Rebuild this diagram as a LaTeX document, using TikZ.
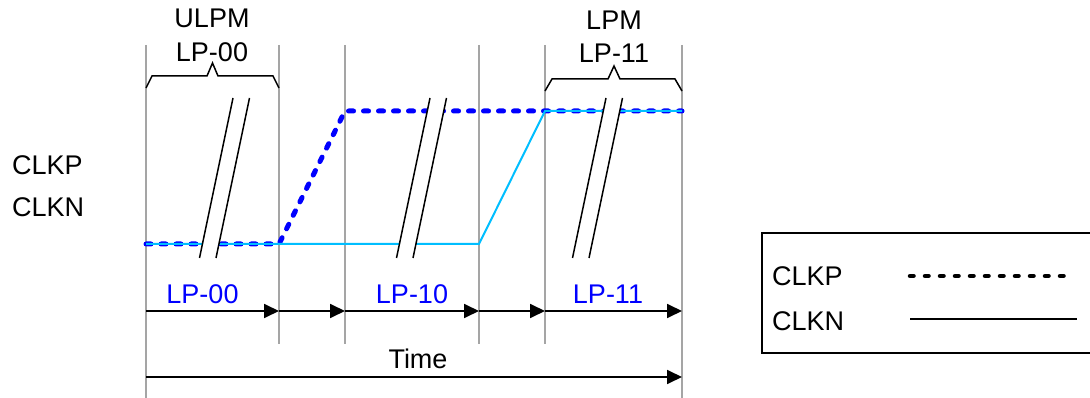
\documentclass[tikz,border=0pt]{standalone}
\usepackage{fontspec}
\setmainfont{Liberation Sans}
\usetikzlibrary{arrows.meta}
\definecolor{gridgray}{RGB}{165,165,165}
\definecolor{clkpblue}{RGB}{0,0,255}
\definecolor{clkncyan}{RGB}{0,190,255}
\begin{document}
\begin{tikzpicture}[x=1pt,y=-1pt,
  lbl/.style={inner sep=0pt, font=\fontsize{27}{32}\selectfont},
  bluelbl/.style={lbl, text=clkpblue},
  gridline/.style={draw=gridgray, line width=1.8pt},
  tarrow/.style={line width=1.8pt, -{Triangle[length=15pt,width=14pt]}},
  bracepath/.style={draw=black, line width=1.5pt, line join=miter},
  clkpline/.style={draw=clkpblue, line width=5pt, line cap=round, dash pattern=on 5pt off 10pt},
  clknline/.style={draw=clkncyan, line width=2pt},
  slashline/.style={draw=black, line width=1.5pt},
  legdash/.style={draw=black, line width=4.5pt, line cap=round, dash pattern=on 3.5pt off 11.5pt},
  legsolid/.style={draw=black, line width=1.5pt},
  legbox/.style={draw=black, line width=1.5pt}]
\useasboundingbox (0,0) rectangle (1090,398);

% vertical grid lines
\coordinate (v1t) at (146,45); \coordinate (v1b) at (146,398);
\coordinate (v2t) at (279,45); \coordinate (v2b) at (279,344);
\coordinate (v3t) at (345,45); \coordinate (v3b) at (345,344);
\coordinate (v4t) at (479,45); \coordinate (v4b) at (479,344);
\coordinate (v5t) at (545,45); \coordinate (v5b) at (545,344);
\coordinate (v6t) at (682,45); \coordinate (v6b) at (682,398);
\foreach \i in {1,...,6} {\draw[gridline] (v\i t) -- (v\i b);}

% signals
\coordinate (p0) at (146,244);
\coordinate (p1) at (279,244);
\coordinate (p2) at (345,111);
\coordinate (p3) at (682,111);
\coordinate (n1) at (479,244);
\coordinate (n2) at (545,111);
\draw[clkpline] (p0) -- (p1) -- (p2) -- (p3);
\draw[clknline] (p0) -- (n1) -- (n2) -- (p3);

% break marks
\foreach \n/\xa in {a/233, b/430, c/606} {
  \coordinate (\n1t) at (\xa,98);
  \coordinate (\n2t) at (\xa+16.5,98);
  \coordinate (\n1b) at (\xa-33.5,258);
  \coordinate (\n2b) at (\xa-17,258);
  \fill[white] (\n1t) -- (\n2t) -- (\n2b) -- (\n1b) -- cycle;
  \draw[slashline] (\n1t) -- (\n1b);
  \draw[slashline] (\n2t) -- (\n2b);
}

% braces
\draw[bracepath] (146,88) -- (152,76) -- (207,76) -- (212.5,63) -- (218,76) -- (273,76) -- (279,88);
\draw[bracepath] (545,91) -- (552,79) -- (608,79) -- (614,66) -- (620,79) -- (675,79) -- (682,91);

% top labels
\node[lbl, anchor=base] (ulpm) at (212,28) {ULPM};
\node[lbl, anchor=base] (lp00t) at (212,62) {LP-00};
\node[lbl, anchor=base] (lpm) at (614,30) {LPM};
\node[lbl, anchor=base] (lp11t) at (614,63) {LP-11};

% left labels
\node[lbl, anchor=base west] (clkpl) at (12,175) {CLKP};
\node[lbl, anchor=base west] (clknl) at (12,217) {CLKN};

% state arrows
\coordinate (a1) at (146,311); \coordinate (a2) at (279,311);
\coordinate (a3) at (345,311); \coordinate (a4) at (479,311);
\coordinate (a5) at (545,311); \coordinate (a6) at (682,311);
\draw[tarrow] (a1) -- (a2);
\draw[tarrow] (a2) -- (a3);
\draw[tarrow] (a3) -- (a4);
\draw[tarrow] (a4) -- (a5);
\draw[tarrow] (a5) -- (a6);
\node[bluelbl, anchor=base] (lp00) at (202.5,303) {LP-00};
\node[bluelbl, anchor=base] (lp10) at (412,303) {LP-10};
\node[bluelbl, anchor=base] (lp11) at (608,303) {LP-11};

% time arrow
\coordinate (ts) at (146,377); \coordinate (te) at (682,377);
\draw[tarrow] (ts) -- (te);
\node[lbl, anchor=base] (time) at (418,368) {Time};

% legend
\draw[legbox] (1091,233) -- (762,233) -- (762,353) -- (1091,353);
\node[lbl, anchor=base west] (legp) at (772,285) {CLKP};
\node[lbl, anchor=base west] (legn) at (772,330) {CLKN};
\coordinate (ld1) at (910,276); \coordinate (ld2) at (1068,276);
\coordinate (ls1) at (910,319); \coordinate (ls2) at (1077,319);
\draw[legdash] (ld1) -- (ld2);
\draw[legsolid] (ls1) -- (ls2);
\end{tikzpicture}
\end{document}
